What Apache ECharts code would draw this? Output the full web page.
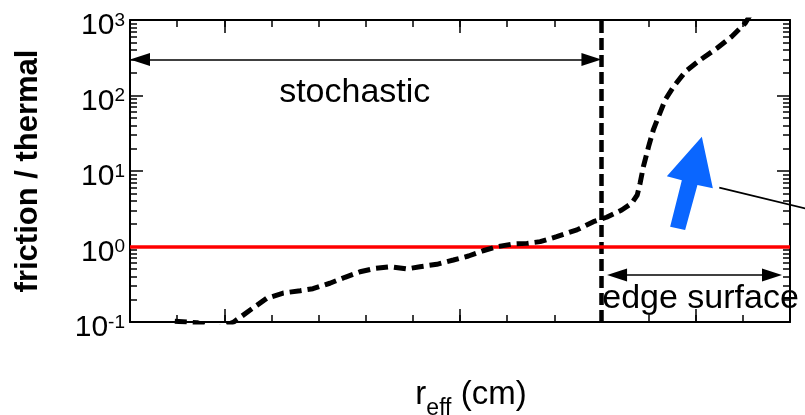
<!DOCTYPE html>
<html>
<head>
<meta charset="utf-8">
<script src="https://cdn.jsdelivr.net/npm/echarts@6/dist/echarts.min.js"></script>
<style>
  html, body { margin: 0; padding: 0; background: #ffffff; }
  #chart { width: 805px; height: 415px; }
</style>
</head>
<body>
<div id="chart"></div>
<script>
// Effective radius (cm) and friction-to-thermal ratio along the profile
const rEff = [
  48.95, 49.42, 49.80, 50.20, 50.55, 50.90, 51.25, 51.61, 51.88, 52.24,
  52.56, 52.88, 53.20, 53.52, 53.87, 54.15, 54.51, 54.86, 55.18, 55.49,
  55.78, 56.12, 56.42, 56.70, 57.05, 57.48, 57.83, 58.11, 58.43, 58.64,
  58.76, 58.82, 58.89, 59.00, 59.10, 59.21, 59.35, 59.53, 59.78, 60.09,
  60.45, 60.76, 61.05, 61.15
];
const frictionRatio = [
  0.102, 0.098, 0.080, 0.100, 0.144, 0.206, 0.242, 0.260, 0.276, 0.326,
  0.391, 0.463, 0.514, 0.540, 0.504, 0.540, 0.581, 0.662, 0.748, 0.879,
  0.993, 1.08, 1.10, 1.16, 1.35, 1.66, 2.13, 2.44, 3.04, 3.73,
  4.81, 6.87, 11.4, 21.0, 34.9, 52.4, 87.1, 131, 207, 295,
  422, 601, 904, 1150
];

// Axis ranges and tick positions
const rRange = [48, 62];
const rMajorTicks = [50, 55, 60];
const ratioRange = [0.1, 1000];
const ratioMinorTicks = [
  0.2, 0.3, 0.4, 0.5, 0.6, 0.7, 0.8, 0.9,
  2, 3, 4, 5, 6, 7, 8, 9,
  20, 30, 40, 50, 60, 70, 80, 90,
  200, 300, 400, 500, 600, 700, 800, 900
];

// Region annotations
const edgeBoundary = 58;          // start of the edge-surface region
const stochasticSpan = [48, 58];
const stochasticLevel = 300;
const edgeSpan = [58.12, 61.83];
const edgeLevel = 0.42;
const thermalLevel = 1;
const blueArrowTip = [60.13, 28.4];
const pointerStart = [60.5, 6.0];

const FONT = '"Liberation Sans", Arial, Helvetica, sans-serif';
const GRID = { left: 130, right: 15, top: 20, bottom: 93 };
const plotW = 805 - GRID.left - GRID.right;
const plotH = 415 - GRID.top - GRID.bottom;
const rPerPx = (rRange[1] - rRange[0]) / plotW;
const decadesPerPx = Math.log10(ratioRange[1] / ratioRange[0]) / plotH;
const headInset = 10 * rPerPx;  // half arrow-head length in r units
const MINOR_LEN = 7;
const MAJOR_LEN = 13;

const chart = echarts.init(document.getElementById('chart'), null, { renderer: 'canvas' });

const frameLine = { show: true, onZero: false, lineStyle: { color: '#000', width: 2 } };

function frameXAxis(position) {
  return {
    type: 'value', position: position, min: rRange[0], max: rRange[1], interval: 1,
    axisLine: frameLine,
    axisTick: { show: true, inside: true, length: MINOR_LEN, lineStyle: { color: '#000', width: 1.5 } },
    axisLabel: { show: false }, splitLine: { show: false }
  };
}

function frameYAxis(position) {
  return {
    type: 'log', logBase: 10, position: position, min: ratioRange[0], max: ratioRange[1],
    axisLine: frameLine,
    axisTick: { show: true, inside: true, length: MAJOR_LEN, lineStyle: { color: '#000', width: 1.5 } },
    axisLabel: { show: false }, splitLine: { show: false }
  };
}

const xBottom = frameXAxis('bottom');
xBottom.name = '{r|r}{sub|eff}{r| (cm)}';
xBottom.nameLocation = 'middle';
xBottom.nameGap = 56;
xBottom.nameTextStyle = {
  padding: [0, 0, 0, 22],
  rich: {
    r: { fontSize: 33, lineHeight: 33, fontFamily: FONT, color: '#000', verticalAlign: 'top' },
    sub: { fontSize: 23, lineHeight: 23, fontFamily: FONT, color: '#000', verticalAlign: 'top', padding: [19, 0, 0, 0] }
  }
};
const xTop = frameXAxis('top');

const yLeft = frameYAxis('left');
yLeft.axisLabel = {
  show: true, margin: 5, color: '#000', fontFamily: FONT, padding: [12, 0, 0, 0],
  formatter: function (v) {
    return '{b|10}{s|' + Math.round(Math.log10(v)) + '}';
  },
  rich: {
    b: { fontSize: 30, lineHeight: 30, fontFamily: FONT, color: '#000', verticalAlign: 'top' },
    s: { fontSize: 19, lineHeight: 19, fontFamily: FONT, color: '#000', verticalAlign: 'top' }
  }
};
yLeft.name = 'friction / thermal';
yLeft.nameLocation = 'middle';
yLeft.nameGap = 86;
yLeft.nameTextStyle = { fontSize: 31, fontWeight: 'bold', fontFamily: FONT, color: '#000' };
const yRight = frameYAxis('right');

// Short segments along the frame: log minor ticks on the vertical edges and
// longer major ticks on the horizontal edges, laid out in data coordinates.
const tickStyle = { color: '#000', width: 1.5, type: 'solid' };
const frameTicks = [];
ratioMinorTicks.forEach(function (v) {
  frameTicks.push([{ coord: [rRange[0], v], lineStyle: tickStyle },
                   { coord: [rRange[0] + MINOR_LEN * rPerPx, v] }]);
  frameTicks.push([{ coord: [rRange[1] - MINOR_LEN * rPerPx, v], lineStyle: tickStyle },
                   { coord: [rRange[1], v] }]);
});
const majorSpan = Math.pow(10, MAJOR_LEN * decadesPerPx);
rMajorTicks.forEach(function (v) {
  frameTicks.push([{ coord: [v, ratioRange[0]], lineStyle: tickStyle },
                   { coord: [v, ratioRange[0] * majorSpan] }]);
  frameTicks.push([{ coord: [v, ratioRange[1] / majorSpan], lineStyle: tickStyle },
                   { coord: [v, ratioRange[1]] }]);
});

const arrowHead = { symbol: 'triangle', symbolSize: [13, 20] };

chart.setOption({
  animation: false,
  backgroundColor: '#ffffff',
  grid: { left: GRID.left, right: GRID.right, top: GRID.top, bottom: GRID.bottom,
          containLabel: false, outerBoundsMode: 'none' },
  xAxis: [xBottom, xTop],
  yAxis: [yLeft, yRight],
  series: [
    {
      type: 'line',
      xAxisIndex: 0,
      yAxisIndex: 0,
      data: rEff.map(function (r, i) { return [r, frictionRatio[i]]; }),
      showSymbol: false,
      symbol: 'none',
      clip: true,
      lineStyle: { color: '#000', width: 5, type: [12, 6], cap: 'butt' },
      z: 5,
      markLine: {
        silent: true,
        symbol: 'none',
        animation: false,
        label: { show: false },
        data: [
          {
            xAxis: edgeBoundary,
            lineStyle: { color: '#000', width: 4.5, type: [12, 5] }
          },
          {
            yAxis: thermalLevel,
            lineStyle: { color: '#ff0000', width: 3.5, type: 'solid' }
          },
          [
            Object.assign({ coord: [stochasticSpan[0] + headInset, stochasticLevel] }, arrowHead),
            Object.assign({ coord: [stochasticSpan[1] - headInset, stochasticLevel] }, arrowHead, {
              lineStyle: { color: '#000', width: 1.5, type: 'solid' },
              label: {
                show: true, formatter: 'stochastic', position: 'insideMiddleBottom',
                distance: 16, padding: [0, 22, 0, 0],
                fontSize: 34, fontFamily: FONT, color: '#000'
              }
            })
          ],
          [
            Object.assign({ coord: [edgeSpan[0] + headInset, edgeLevel] }, arrowHead),
            Object.assign({ coord: [edgeSpan[1] - headInset, edgeLevel] }, arrowHead, {
              lineStyle: { color: '#000', width: 1.5, type: 'solid' },
              label: {
                show: true, formatter: 'edge surface', position: 'insideMiddleBottom',
                distance: 7, padding: [0, 0, 0, 12],
                fontSize: 34, fontFamily: FONT, color: '#000'
              }
            })
          ]
        ].concat(frameTicks)
      }
    }
  ]
});

// Blue arrow and pointer line, anchored to data positions
function drawAnnotations() {
  const toPx = function (pt) {
    return chart.convertToPixel({ xAxisIndex: 0, yAxisIndex: 0 }, pt);
  };
  const tip = toPx(blueArrowTip);
  const ps = toPx(pointerStart);
  chart.setOption({
    graphic: [
      {
        type: 'polygon', x: tip[0], y: tip[1], z: 10, silent: true,
        shape: { points: [
          [0, 0], [11, 51.6], [-4.4, 48.3], [-16.7, 93.3],
          [-31.7, 90], [-20, 43.5], [-35, 39.5]
        ] },
        style: { fill: '#0a66ff', stroke: null }
      },
      {
        type: 'line', z: 10, silent: true,
        shape: { x1: ps[0], y1: ps[1], x2: ps[0] + 110, y2: ps[1] + 26.4 },
        style: { stroke: '#000', lineWidth: 1.8 }
      }
    ]
  });
}
drawAnnotations();
</script>
</body>
</html>
